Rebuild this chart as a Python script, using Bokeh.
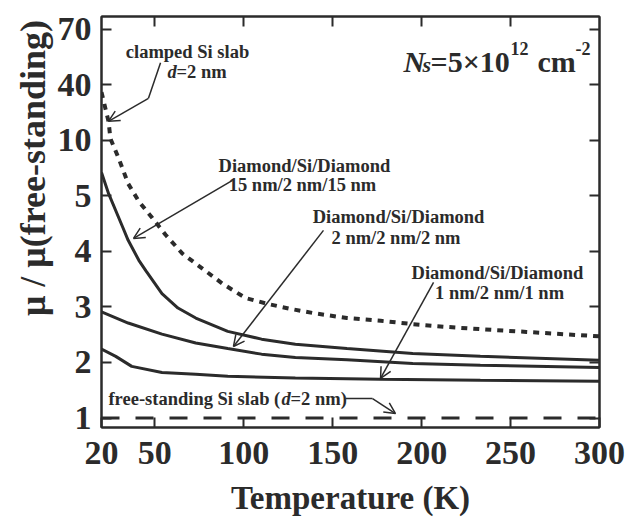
import numpy as np
from bokeh.plotting import figure
from bokeh.models import (Range1d, FixedTicker, LinearAxis, Label, Arrow, OpenHead)
from bokeh.embed import file_html
from bokeh.resources import INLINE

# ---- data ----
tick_vals = [1, 2, 3, 4, 5, 10, 40, 70]
tick_labels = ["1", "2", "3", "4", "5", "10", "40", "70"]
x_ticks = [20, 50, 100, 150, 200, 250, 300]

T_clamped = [20, 24, 25, 29.6, 35, 41, 48.6, 56, 65.5, 73, 88, 101, 114, 127, 139, 158, 177, 195, 214, 233, 259, 300]
mu_clamped = [36, 20, 11, 8.4, 6.1, 4.9, 4.6, 4.3, 3.96, 3.78, 3.42, 3.16, 3.05, 2.96, 2.89, 2.8, 2.75, 2.69, 2.64, 2.6, 2.55, 2.47]

T_15 = [20, 24, 32, 35, 41, 45, 54, 63, 73, 91, 110, 129, 158, 195, 233, 300]
mu_15 = [7.1, 5.2, 4.43, 4.2, 3.84, 3.65, 3.24, 2.98, 2.8, 2.56, 2.42, 2.33, 2.25, 2.16, 2.11, 2.04]

T_2 = [20, 35, 54, 73, 91, 110, 129, 158, 195, 233, 300]
mu_2 = [2.91, 2.71, 2.51, 2.35, 2.25, 2.15, 2.09, 2.05, 1.98, 1.95, 1.91]

T_1 = [20, 28, 37, 54, 73, 91, 129, 177, 233, 300]
mu_1 = [2.24, 2.11, 1.93, 1.82, 1.79, 1.75, 1.72, 1.70, 1.68, 1.66]

T_free = [20, 300]
mu_free = [1, 1]

tick_pos = list(range(len(tick_vals)))


def ymap(v):
    return np.interp(v, tick_vals, tick_pos)


FONT = "Liberation Serif"
INK = "#2b2b2b"

p = figure(width=628, height=518, output_backend="svg", toolbar_location=None,
           x_range=Range1d(20, 300), y_range=Range1d(-0.171, 7.23),
           min_border_left=101, min_border_right=29, min_border_top=16, min_border_bottom=91)
p.grid.visible = False
p.outline_line_color = INK
p.outline_line_width = 2
p.background_fill_color = "white"
p.border_fill_color = "white"

xa = p.xaxis[0]
xa.ticker = FixedTicker(ticks=x_ticks)
ya = p.yaxis[0]
ya.ticker = FixedTicker(ticks=tick_pos)
ya.major_label_overrides = {i: s for i, s in zip(tick_pos, tick_labels)}
for ax in (xa, ya):
    ax.major_tick_in = 10
    ax.major_tick_out = 0
    ax.minor_tick_line_color = None
    ax.axis_line_width = 2
    ax.axis_line_color = INK
    ax.major_tick_line_width = 2
    ax.major_tick_line_color = INK
    ax.major_label_text_font = FONT
    ax.major_label_text_font_style = "bold"
    ax.major_label_text_font_size = "34px"
    ax.major_label_text_color = INK
    ax.axis_label_text_font = FONT
    ax.axis_label_text_font_style = "bold"
    ax.axis_label_text_color = INK
xa.major_label_standoff = 14
ya.major_label_standoff = 10

xa.axis_label = "Temperature (K)"
xa.axis_label_text_font_size = "33px"
xa.axis_label_standoff = 13

# leading no-break spaces lift the visible title, as in the reference
ya.axis_label = "\u00a0" * 12 + "\u03bc / \u03bc(free-standing)"
ya.axis_label_text_font_size = "36px"
ya.axis_label_standoff = 2

# top and right axes: ticks only
top = LinearAxis(ticker=FixedTicker(ticks=[50, 100, 150, 200, 250]))
right = LinearAxis(ticker=FixedTicker(ticks=tick_pos))
for ax in (top, right):
    ax.major_tick_in = 10
    ax.major_tick_out = 0
    ax.minor_tick_line_color = None
    ax.axis_line_width = 2
    ax.axis_line_color = INK
    ax.major_tick_line_width = 2
    ax.major_tick_line_color = INK
    ax.major_label_text_font_size = "1px"
    ax.major_label_text_color = None
    ax.major_label_standoff = 0
p.add_layout(top, "above")
p.add_layout(right, "right")

# curves
p.line(T_clamped, ymap(mu_clamped), line_color=INK, line_width=4, line_dash="6 6")
p.line(T_15, ymap(mu_15), line_color=INK, line_width=3)
p.line(T_2, ymap(mu_2), line_color=INK, line_width=3)
p.line(T_1, ymap(mu_1), line_color=INK, line_width=3)
p.line(T_free, ymap(mu_free), line_color=INK, line_width=3, line_dash="18 16")


def lab(x, y, text, size="18.5px", style="bold", align="center"):
    p.add_layout(Label(x=x, y=y, text=text, text_font=FONT, text_font_style=style,
                       text_font_size=size, text_color=INK, text_align=align,
                       text_baseline="middle"))


def arrow(x0, y0, x1, y1):
    p.add_layout(Arrow(x_start=x0, y_start=y0, x_end=x1, y_end=y1, line_color=INK,
                       line_width=1.5, end=OpenHead(size=11, line_width=1.5, line_color=INK)))


# clamped Si slab
lab(68.35, 6.586, "clamped Si slab")
lab(57.1, 6.225, "d", style="bold italic", align="left")
lab(62.2, 6.225, "=2 nm", align="left")
p.line([53.2, 46.4], [6.396, 5.757], line_color=INK, line_width=1.5)
arrow(46.4, 5.757, 23.9, 5.342)

# 15/2/15
lab(134.1, 4.532, "Diamond/Si/Diamond")
lab(133.0, 4.189, "15 nm/2 nm/15 nm")
arrow(93.65, 4.279, 38.0, 3.234)

# 2/2/2
lab(187.0, 3.613, "Diamond/Si/Diamond")
lab(185.6, 3.234, "2 nm/2 nm/2 nm")
arrow(144.8, 3.378, 94.2, 1.288)

# 1/2/1
lab(242.6, 2.604, "Diamond/Si/Diamond")
lab(243.8, 2.243, "1 nm/2 nm/1 nm")
arrow(206.7, 2.441, 176.9, 0.712)

# free-standing
lab(23.9, 0.351, "free-standing Si slab (", align="left")
lab(121.2, 0.351, "d", style="bold italic", align="left")
lab(126.3, 0.351, "=2 nm)", align="left")
p.line([157.2, 172.4], [0.351, 0.351], line_color=INK, line_width=1.5)
arrow(172.4, 0.351, 185.3, 0.081)

# N_s label
lab(189.8, 6.42, "N", size="30px", style="bold italic", align="left")
lab(200.5, 6.36, "s", size="22px", style="bold italic", align="left")
lab(205.0, 6.42, "=5\u00d710", size="30px", align="left")
lab(250.0, 6.657, "12", size="18px", align="left")
lab(265.1, 6.42, "cm", size="30px", align="left")
lab(286.5, 6.657, "-2", size="18px", align="left")

open("out.html", "w").write(file_html(p, INLINE))
